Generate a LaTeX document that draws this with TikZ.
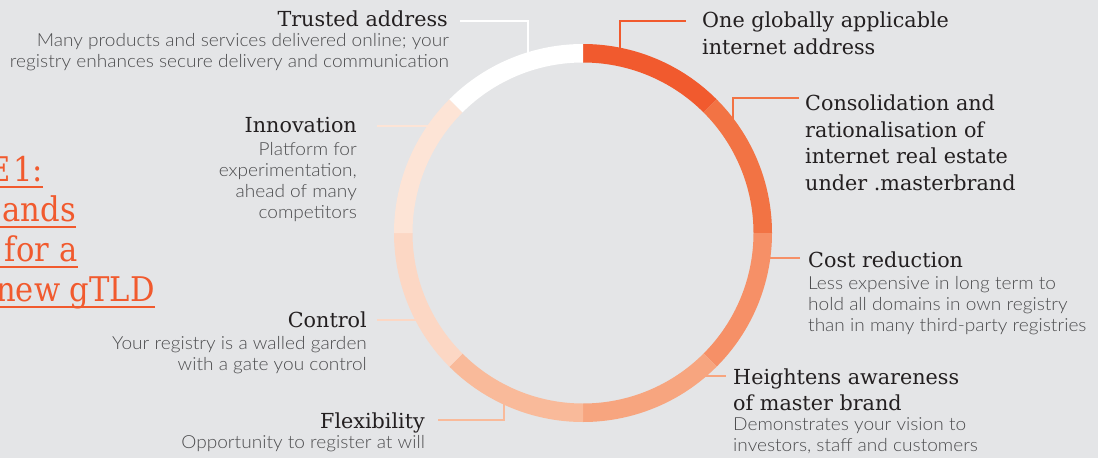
\documentclass[tikz,border=0pt]{standalone}
\usepackage{fontspec}
\newfontfamily\headfont{DejaVu Serif}
\newfontfamily\titlefont{DejaVu Serif}[FakeStretch=0.9]
\newfontfamily\bodyfont{Lato Light}[FakeStretch=1.06]
\definecolor{bg}{RGB}{228,229,231}
\definecolor{headc}{RGB}{35,31,32}
\definecolor{bodyc}{RGB}{76,76,78}
\definecolor{accent}{RGB}{241,90,46}
\definecolor{seg1}{RGB}{241,90,46}
\definecolor{seg2}{RGB}{242,115,68}
\definecolor{seg3}{RGB}{246,144,103}
\definecolor{seg4}{RGB}{247,165,127}
\definecolor{seg5}{RGB}{249,186,154}
\definecolor{seg6}{RGB}{252,215,196}
\definecolor{seg7}{RGB}{253,228,214}
\definecolor{seg8}{RGB}{255,255,255}
\begin{document}
\begin{tikzpicture}[x=1pt,y=-1pt,
  head/.style={inner sep=0pt, text=headc, font=\headfont\fontsize{20.7}{26.5}\selectfont},
  body/.style={inner sep=0pt, text=bodyc, font=\bodyfont\fontsize{18}{20.8}\selectfont},
  titleline/.style={inner sep=0pt, text=accent, font=\titlefont\fontsize{34}{40}\selectfont, anchor=base east},
  uline/.style={draw=accent, line width=2pt},
  link/.style={line width=2pt},
]
\useasboundingbox (0,0) rectangle (1098,458);
\fill[bg] (0,0) rectangle (1098,458);

% centre of the ring
\coordinate (c) at (583,233);

% title block, running off the left edge
\node[titleline] (tl1) at (43,181) {E\hspace{2pt}1:};
\node[titleline] (tl2) at (76,221) {ands};
\node[titleline] (tl3) at (77.5,261) {for a};
\node[titleline] (tl4) at (155,301) {new gTLD};
\foreach \n in {tl1,tl2,tl3,tl4}
  \draw[uline] ([yshift=-6pt]\n.base east) -- ++(-200,0);

% connector end points
\coordinate (r1) at (528,62);   \coordinate (e1) at (460,21);
\coordinate (r2) at (620,57);   \coordinate (e2) at (686,21);
\coordinate (r3) at (733,133);  \coordinate (e3) at (799,98);
\coordinate (r4) at (761,258);  \coordinate (e4) at (800,258);
\coordinate (r5) at (692,376);  \coordinate (e5) at (726,376);
\coordinate (r6) at (503.5,394);\coordinate (e6) at (438,420);
\coordinate (r7) at (425,320);  \coordinate (e7) at (377,320);
\coordinate (r8) at (438,126);  \coordinate (e8) at (377,126);

% connectors (drawn under the ring)
\draw[link, seg8] (r1) |- (e1);
\draw[link, seg1] (r2) |- (e2);
\draw[link, seg2] (r3) |- (e3);
\draw[link, seg3] (r4) -- (e4);
\draw[link, seg4] (r5) -- (e5);
\draw[link, seg5] (r6) |- (e6);
\draw[link, seg6] (r7) -- (e7);
\draw[link, seg7] (r8) -- (e8);

% the ring, eight equal segments
\foreach \a/\b/\col in {90/45/seg1, 45/0/seg2, 0/-45/seg3, -45/-90/seg4,
                        -90/-135/seg5, -135/-180/seg6, 180/135/seg7, 135/90/seg8}
  \fill[\col] ([shift={(c)}]\a:189pt) arc[start angle=\a, end angle=\b, radius=189pt]
      -- ([shift={(c)}]\b:170.5pt) arc[start angle=\b, end angle=\a, radius=170.5pt] -- cycle;

% left-hand labels (multi-line nodes sit on their last baseline)
\node[head, anchor=base east] (t1) at (448,26) {Trusted address};
\node[body, anchor=base east, align=right] (b1) at (449,67)
  {Many products and services delivered online; your\\registry enhances secure delivery and communication};
\node[head, anchor=base east] (t8) at (357,132) {Innovation};
\node[body, anchor=base east, align=right] (b8) at (357,218)
  {Platform for\\experimentation,\\ahead of many\\competitors};
\node[head, anchor=base east] (t7) at (367,327) {Control};
\node[body, anchor=base east, align=right] (b7) at (367,370)
  {Your registry is a walled garden\\with a gate you control};
\node[head, anchor=base east] (t6) at (425,428) {Flexibility};
\node[body, anchor=base east, align=right] (b6) at (425,448)
  {Opportunity to register at will};

% right-hand labels
\node[head, anchor=base west, align=left] (t2) at (702,54)
  {One globally applicable\\internet address};
\node[head, anchor=base west, align=left] (t3) at (805,190)
  {Consolidation and\\rationalisation of\\internet real estate\\under .masterbrand};
\node[head, anchor=base west] (t4) at (808,267) {Cost reduction};
\node[body, anchor=base west, align=left] (b4) at (808,331.5)
  {Less expensive in long term to\\hold all domains in own registry\\than in many third-party registries};
\node[head, anchor=base west, align=left] (t5) at (733,410.5)
  {Heightens awareness\\of master brand};
\node[body, anchor=base west, align=left] (b5) at (733,451.5)
  {Demonstrates your vision to\\investors, staff and customers};
\end{tikzpicture}
\end{document}
